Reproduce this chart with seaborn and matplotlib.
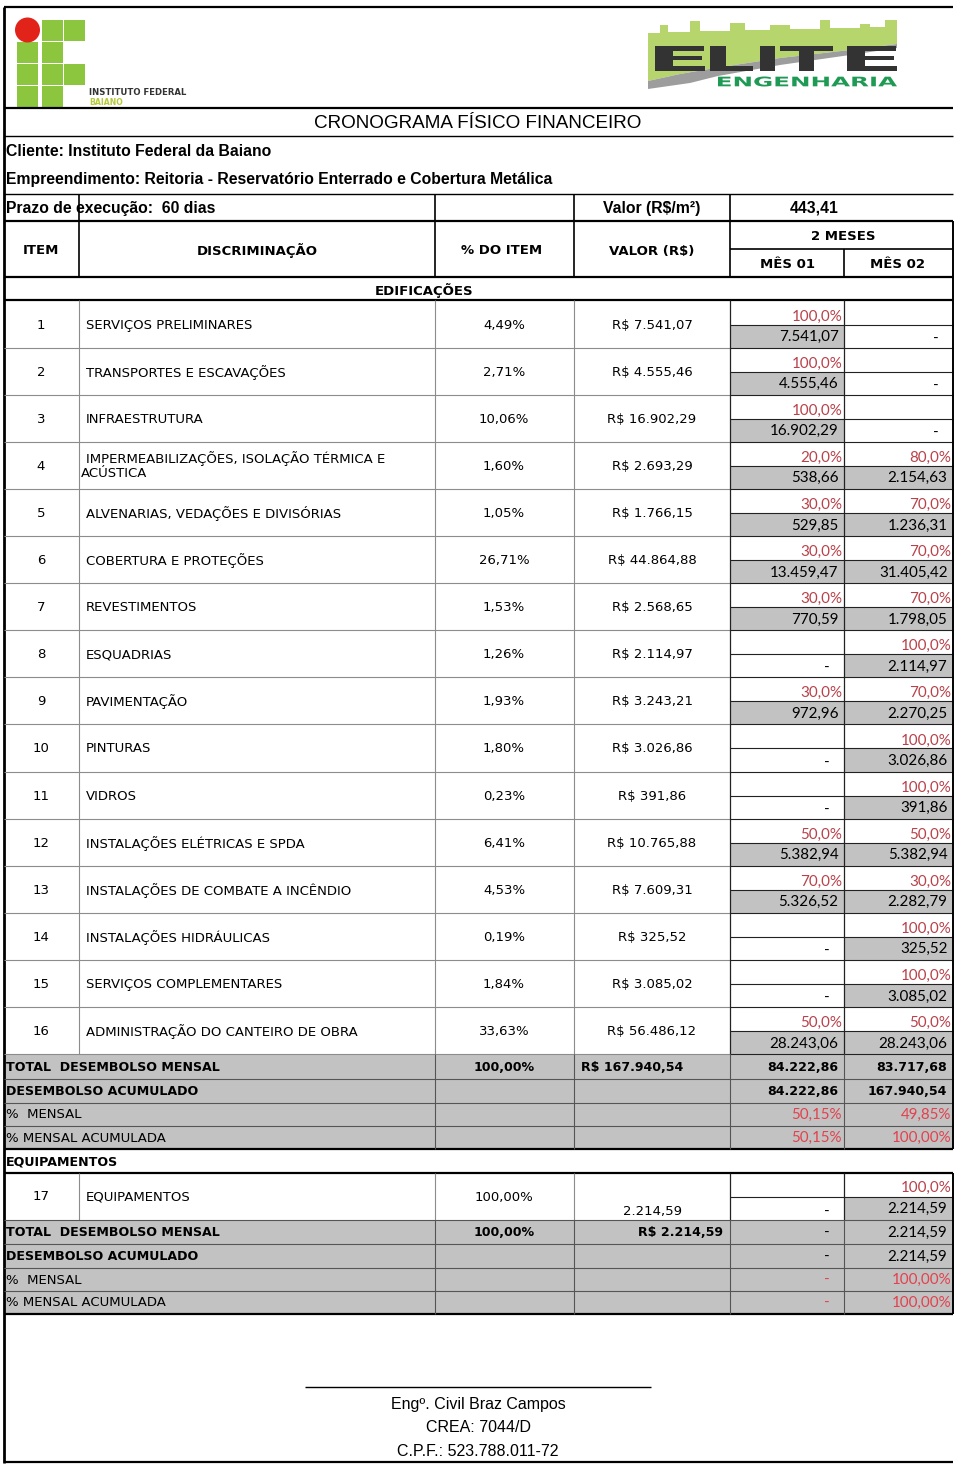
import matplotlib
matplotlib.use("Agg")
import matplotlib.pyplot as plt
import seaborn as sns
from matplotlib.patches import Rectangle, Circle, Polygon, PathPatch
from matplotlib.textpath import TextPath
from matplotlib.font_manager import FontProperties
from matplotlib.transforms import Affine2D

sns.set_theme(style="white")
plt.rcParams['font.family'] = ['DejaVu Sans']

# ---------------- data ----------------
items = list(range(1, 17))
descricao = ["SERVIÇOS PRELIMINARES", "TRANSPORTES E ESCAVAÇÕES", "INFRAESTRUTURA",
             "IMPERMEABILIZAÇÕES, ISOLAÇÃO TÉRMICA E|ACÚSTICA",
             "ALVENARIAS, VEDAÇÕES E DIVISÓRIAS", "COBERTURA E PROTEÇÕES", "REVESTIMENTOS",
             "ESQUADRIAS", "PAVIMENTAÇÃO", "PINTURAS", "VIDROS",
             "INSTALAÇÕES ELÉTRICAS E SPDA", "INSTALAÇÕES DE COMBATE A INCÊNDIO",
             "INSTALAÇÕES HIDRÁULICAS", "SERVIÇOS COMPLEMENTARES",
             "ADMINISTRAÇÃO DO CANTEIRO DE OBRA"]
pct_item = [4.49, 2.71, 10.06, 1.60, 1.05, 26.71, 1.53, 1.26, 1.93, 1.80, 0.23, 6.41, 4.53, 0.19, 1.84, 33.63]
valor = [7541.07, 4555.46, 16902.29, 2693.29, 1766.15, 44864.88, 2568.65, 2114.97, 3243.21,
         3026.86, 391.86, 10765.88, 7609.31, 325.52, 3085.02, 56486.12]
mes1_pct = [100, 100, 100, 20, 30, 30, 30, 0, 30, 0, 0, 50, 70, 0, 0, 50]
mes2_pct = [0, 0, 0, 80, 70, 70, 70, 100, 70, 100, 100, 50, 30, 100, 100, 50]
mes1_val = [7541.07, 4555.46, 16902.29, 538.66, 529.85, 13459.47, 770.59, 0, 972.96, 0, 0,
            5382.94, 5326.52, 0, 0, 28243.06]
mes2_val = [0, 0, 0, 2154.63, 1236.31, 31405.42, 1798.05, 2114.97, 2270.25, 3026.86, 391.86,
            5382.94, 2282.79, 325.52, 3085.02, 28243.06]
total_valor = 167940.54
total_mensal = [84222.86, 83717.68]
desembolso_acum = [84222.86, 167940.54]
pct_mensal = [50.15, 49.85]
pct_acum = [50.15, 100.00]

equip_item = 17
equip_desc = "EQUIPAMENTOS"
equip_pct = 100.00
equip_valor = 2214.59
equip_mes_pct = [0, 100]
equip_mes_val = [0, 2214.59]
equip_total = [0, 2214.59]
equip_acum = [0, 2214.59]
equip_pct_mensal = [0, 100.00]
equip_pct_acum = [0, 100.00]

valor_m2 = 443.41


def br(v, nd=2):
    s = f"{v:,.{nd}f}"
    return s.replace(",", "#").replace(".", ",").replace("#", ".")


# ---------------- figure ----------------
fig = plt.figure(figsize=(9.6, 14.64), dpi=100)
ax = fig.add_axes([0, 0, 1, 1])
ax.set_xlim(0, 960)
ax.set_ylim(1464, 0)
ax.axis('off')

FV = 'DejaVu Sans'
FA = 'Liberation Sans'
FC = 'Lato'
SV = 9.5
SB = 9.1
SC = 10.9
SA = 11.3
RED = '#b8424a'
RED2 = '#e2414d'
GREY = '#c2c2c2'
DARK = '#222222'
LGREY = '#8c8c8c'


def hl(y, x0, x1, lw=0.8, c=DARK):
    ax.plot([x0, x1], [y, y], color=c, lw=lw, solid_capstyle='butt')


def vl(x, y0, y1, lw=0.8, c=DARK):
    ax.plot([x, x], [y0, y1], color=c, lw=lw, solid_capstyle='butt')


def tx(x, y, s, ha='left', size=SV, weight='normal', color='black', family=FV):
    ax.text(x, y, s, ha=ha, va='center', fontsize=size, fontweight=weight,
            color=color, family=family)


def rect(x0, y0, x1, y1, c=GREY):
    ax.add_patch(Rectangle((x0, y0), x1 - x0, y1 - y0, facecolor=c, edgecolor='none', zorder=0))


def fit_text(s, x0, y0, x1, y1, color, family='DejaVu Sans', weight='bold'):
    tp = TextPath((0, 0), s, size=1, prop=FontProperties(family=family, weight=weight))
    ext = tp.get_extents()
    sx = (x1 - x0) / ext.width
    sy = (y1 - y0) / ext.height
    tr = Affine2D().translate(-ext.x0, -ext.y0).scale(sx, -sy).translate(x0, y1)
    ax.add_patch(PathPatch(tr.transform_path(tp), facecolor=color, edgecolor='none', zorder=3))


# ---------------- logos ----------------
GREEN = '#8cc63f'
ax.add_patch(Circle((27.5, 30), 12.5, facecolor='#e2231a', edgecolor='none', zorder=3))
squares = [(42, 20), (64, 20), (17, 42), (42, 42), (17, 64), (42, 64), (64, 64), (17, 86), (42, 86)]
for (sx_, sy_) in squares:
    ax.add_patch(Rectangle((sx_, sy_), 21, 20.5, facecolor=GREEN, edgecolor='none', zorder=2))
tx(89, 92.5, "INSTITUTO FEDERAL", size=6.1, weight='bold', color='#333333')
tx(89, 102.5, "BAIANO", size=5.6, weight='bold', color='#b5c93a')

# Elite logo
LG = '#b6d56d'
sky = [(648, 88), (648, 33), (660, 33), (660, 25), (668, 25), (668, 32), (690, 32), (690, 21),
       (700, 21), (700, 31), (730, 31), (730, 23), (745, 23), (745, 30), (770, 30), (770, 25),
       (790, 25), (790, 29), (820, 29), (820, 20), (830, 20), (830, 28), (860, 28), (860, 24),
       (870, 24), (870, 27), (885, 27), (885, 20), (897, 20), (897, 44)]
band_top = [(897, 44), (850, 50), (780, 58), (715, 68), (680, 74), (648, 81)]
band_bot = [(648, 89), (690, 83), (718, 76), (780, 65), (850, 55), (897, 48)]
ax.add_patch(Polygon(sky + band_top[1:] + [(648, 89)], closed=True, facecolor=LG,
                     edgecolor='none', zorder=1))
ax.add_patch(Polygon(band_top + band_bot, closed=True, facecolor='#9d9d9d', edgecolor='none', zorder=2))
elite_boxes = [("E", 655, 705), ("L", 710, 753), ("I", 760, 775), ("T", 780, 833), ("E", 847, 897)]
for ch, xa, xb in elite_boxes:
    fit_text(ch, xa, 46, xb, 71, '#333333')
fit_text("ENGENHARIA", 718, 76.5, 897, 86.5, '#1f9a55')

# ---------------- header frame ----------------
hl(7, 4, 953, lw=1.6, c='black')
hl(108, 4, 953, lw=1.6, c='black')
hl(136, 4, 953, lw=1.0, c='black')
hl(194, 4, 953, lw=1.0, c='black')
hl(221, 4, 953, lw=1.6, c='black')
hl(249, 730, 953, lw=1.2, c='black')
hl(277, 4, 953, lw=1.6, c='black')
hl(300, 4, 953, lw=1.6, c='black')
vl(4, 7, 1463, lw=2.0, c='black')
for x in [79, 435, 574, 730]:
    vl(x, 194, 277, lw=1.2, c='black')
vl(844, 249, 277, lw=1.2, c='black')
vl(953, 221, 277, lw=1.4, c='black')

tx(478, 123, "CRONOGRAMA FÍSICO FINANCEIRO", ha='center', size=13.6, family=FA)
tx(6, 151, "Cliente: Instituto Federal da Baiano", size=SA, weight='bold', family=FA)
tx(6, 179.5, "Empreendimento: Reitoria - Reservatório Enterrado e Cobertura Metálica", size=SA,
   weight='bold', family=FA)
tx(6, 208, "Prazo de execução:  60 dias", size=SA, weight='bold', family=FA)
tx(652, 208, "Valor (R$/m²)", ha='center', size=SA, weight='bold', family=FA)
tx(814, 208, br(valor_m2), ha='center', size=SA, weight='bold', family=FA)

tx(41, 251, "ITEM", ha='center', weight='bold')
tx(257, 251, "DISCRIMINAÇÃO", ha='center', weight='bold')
tx(502, 251, "% DO ITEM", ha='center', weight='bold')
tx(652, 251, "VALOR (R$)", ha='center', weight='bold')
tx(843, 237, "2 MESES", ha='center', weight='bold')
tx(787, 265, "MÊS 01", ha='center', weight='bold')
tx(898, 265, "MÊS 02", ha='center', weight='bold')
tx(424, 290.5, "EDIFICAÇÕES", ha='center', weight='bold')

# ---------------- data rows ----------------
y0 = 300.5
rh = 47.1
for i in range(len(items)):
    t = y0 + i * rh
    mid = t + rh / 2 + 1
    half = t + 24
    b = t + rh
    if mes1_val[i] > 0:
        rect(730, half, 844, b)
    if mes2_val[i] > 0:
        rect(844, half, 953, b)
    tx(41, mid, str(items[i]), ha='center')
    d = descricao[i]
    if '|' in d:
        l1, l2 = d.split('|')
        tx(86, mid - 7.5, l1)
        tx(81, mid + 7.5, l2)
    else:
        tx(86, mid, d)
    tx(504, mid, br(pct_item[i]) + "%", ha='center')
    tx(652, mid, "R$ " + br(valor[i]), ha='center')
    for p, v, right in [(mes1_pct[i], mes1_val[i], 844), (mes2_pct[i], mes2_val[i], 953)]:
        if p > 0:
            tx(right - 1.5, t + 16, br(p, 1) + "%", ha='right', size=SC, family=FC, color=RED)
            tx(right - 5.5, t + 36.5, br(v), ha='right', size=SC, family=FC)
        else:
            tx(right - 14, t + 38, "-", ha='right', size=SC, family=FC)
    hl(b, 4, 730, lw=0.8, c=LGREY)
    hl(b, 730, 953, lw=0.8, c=DARK)
    hl(half, 730, 953, lw=0.8, c=DARK)
yend = y0 + len(items) * rh
for x in [79, 435, 574]:
    vl(x, 300, yend, lw=0.8, c=LGREY)
for x in [730, 844]:
    vl(x, 300, yend, lw=0.9, c=DARK)
vl(953, 277, yend, lw=1.4, c='black')

# ---------------- totals (edificações) ----------------
ty = [yend, 1079, 1102.5, 1126, 1149]
rect(4, ty[0], 953, ty[-1])
for y in ty[1:-1]:
    hl(y, 4, 953, lw=0.8, c='#555555')
hl(ty[-1], 4, 953, lw=1.6, c='black')
for x in [435, 574, 730, 844]:
    vl(x, ty[0], ty[-1], lw=0.8, c='#555555')
vl(953, ty[0], ty[-1], lw=1.4, c='black')
c = [(ty[k] + ty[k + 1]) / 2 + 0.5 for k in range(4)]
tx(6, c[0], "TOTAL  DESEMBOLSO MENSAL", size=SB, weight='bold')
tx(504, c[0], br(100) + "%", ha='center', size=SB, weight='bold')
tx(581, c[0], "R$ " + br(total_valor), size=SB, weight='bold')
tx(838, c[0], br(total_mensal[0]), ha='right', size=SB, weight='bold')
tx(947, c[0], br(total_mensal[1]), ha='right', size=SB, weight='bold')
tx(6, c[1], "DESEMBOLSO ACUMULADO", size=SB, weight='bold')
tx(838, c[1], br(desembolso_acum[0]), ha='right', size=SB, weight='bold')
tx(947, c[1], br(desembolso_acum[1]), ha='right', size=SB, weight='bold')
tx(6, c[2], "%  MENSAL")
tx(842, c[2], br(pct_mensal[0]) + "%", ha='right', size=SC, family=FC, color=RED2)
tx(951, c[2], br(pct_mensal[1]) + "%", ha='right', size=SC, family=FC, color=RED2)
tx(6, c[3], "% MENSAL ACUMULADA")
tx(842, c[3], br(pct_acum[0]) + "%", ha='right', size=SC, family=FC, color=RED2)
tx(951, c[3], br(pct_acum[1]) + "%", ha='right', size=SC, family=FC, color=RED2)

# ---------------- equipamentos ----------------
tx(6, 1162, "EQUIPAMENTOS", size=SB, weight='bold')
hl(1173, 4, 953, lw=1.6, c='black')
et, eb = 1173, 1220
ehalf = 1197
rect(844, ehalf, 953, eb)
tx(41, 1197, str(equip_item), ha='center')
tx(86, 1197, equip_desc)
tx(504, 1197, br(equip_pct) + "%", ha='center')
tx(652, 1211, br(equip_valor), ha='center')
tx(830, 1211.5, "-", ha='right', size=SC, family=FC)
tx(951.5, 1188, br(equip_mes_pct[1], 1) + "%", ha='right', size=SC, family=FC, color=RED)
tx(947.5, 1208.5, br(equip_mes_val[1]), ha='right', size=SC, family=FC)
hl(ehalf, 730, 953, lw=0.8, c=DARK)
for x in [79, 435, 574]:
    vl(x, et, eb, lw=0.8, c=LGREY)
for x in [730, 844]:
    vl(x, et, eb, lw=0.9, c=DARK)
vl(953, et, eb, lw=1.4, c='black')

ey = [eb, 1244, 1268, 1291, 1314]
rect(4, ey[0], 953, ey[-1])
hl(ey[0], 4, 953, lw=0.8, c='#555555')
for y in ey[1:-1]:
    hl(y, 4, 953, lw=0.8, c='#555555')
hl(ey[-1], 4, 953, lw=1.6, c='black')
for x in [435, 574, 730, 844]:
    vl(x, ey[0], ey[-1], lw=0.8, c='#555555')
vl(953, ey[0], ey[-1], lw=1.4, c='black')
ce = [(ey[k] + ey[k + 1]) / 2 + 0.5 for k in range(4)]
tx(6, ce[0], "TOTAL  DESEMBOLSO MENSAL", size=SB, weight='bold')
tx(504, ce[0], br(100) + "%", ha='center', size=SB, weight='bold')
tx(723, ce[0], "R$ " + br(equip_valor), ha='right', size=SB, weight='bold')
tx(830, ce[0], "-", ha='right', size=SC, family=FC)
tx(947.5, ce[0], br(equip_total[1]), ha='right', size=SC, family=FC)
tx(6, ce[1], "DESEMBOLSO ACUMULADO", size=SB, weight='bold')
tx(830, ce[1], "-", ha='right', size=SC, family=FC)
tx(947.5, ce[1], br(equip_acum[1]), ha='right', size=SC, family=FC)
tx(6, ce[2], "%  MENSAL")
tx(830, ce[2], "-", ha='right', size=SC, family=FC, color=RED2)
tx(951, ce[2], br(equip_pct_mensal[1]) + "%", ha='right', size=SC, family=FC, color=RED2)
tx(6, ce[3], "% MENSAL ACUMULADA")
tx(830, ce[3], "-", ha='right', size=SC, family=FC, color=RED2)
tx(951, ce[3], br(equip_pct_acum[1]) + "%", ha='right', size=SC, family=FC, color=RED2)

# ---------------- signature ----------------
hl(1387, 305, 651, lw=1.0, c='black')
tx(478, 1404, "Engº. Civil Braz Campos", ha='center', size=11.5, family=FA)
tx(478, 1427.5, "CREA: 7044/D", ha='center', size=11.5, family=FA)
tx(478, 1451, "C.P.F.: 523.788.011-72", ha='center', size=11.5, family=FA)
hl(1462, 4, 953, lw=1.6, c='black')

fig.savefig("out.png", dpi=100)
